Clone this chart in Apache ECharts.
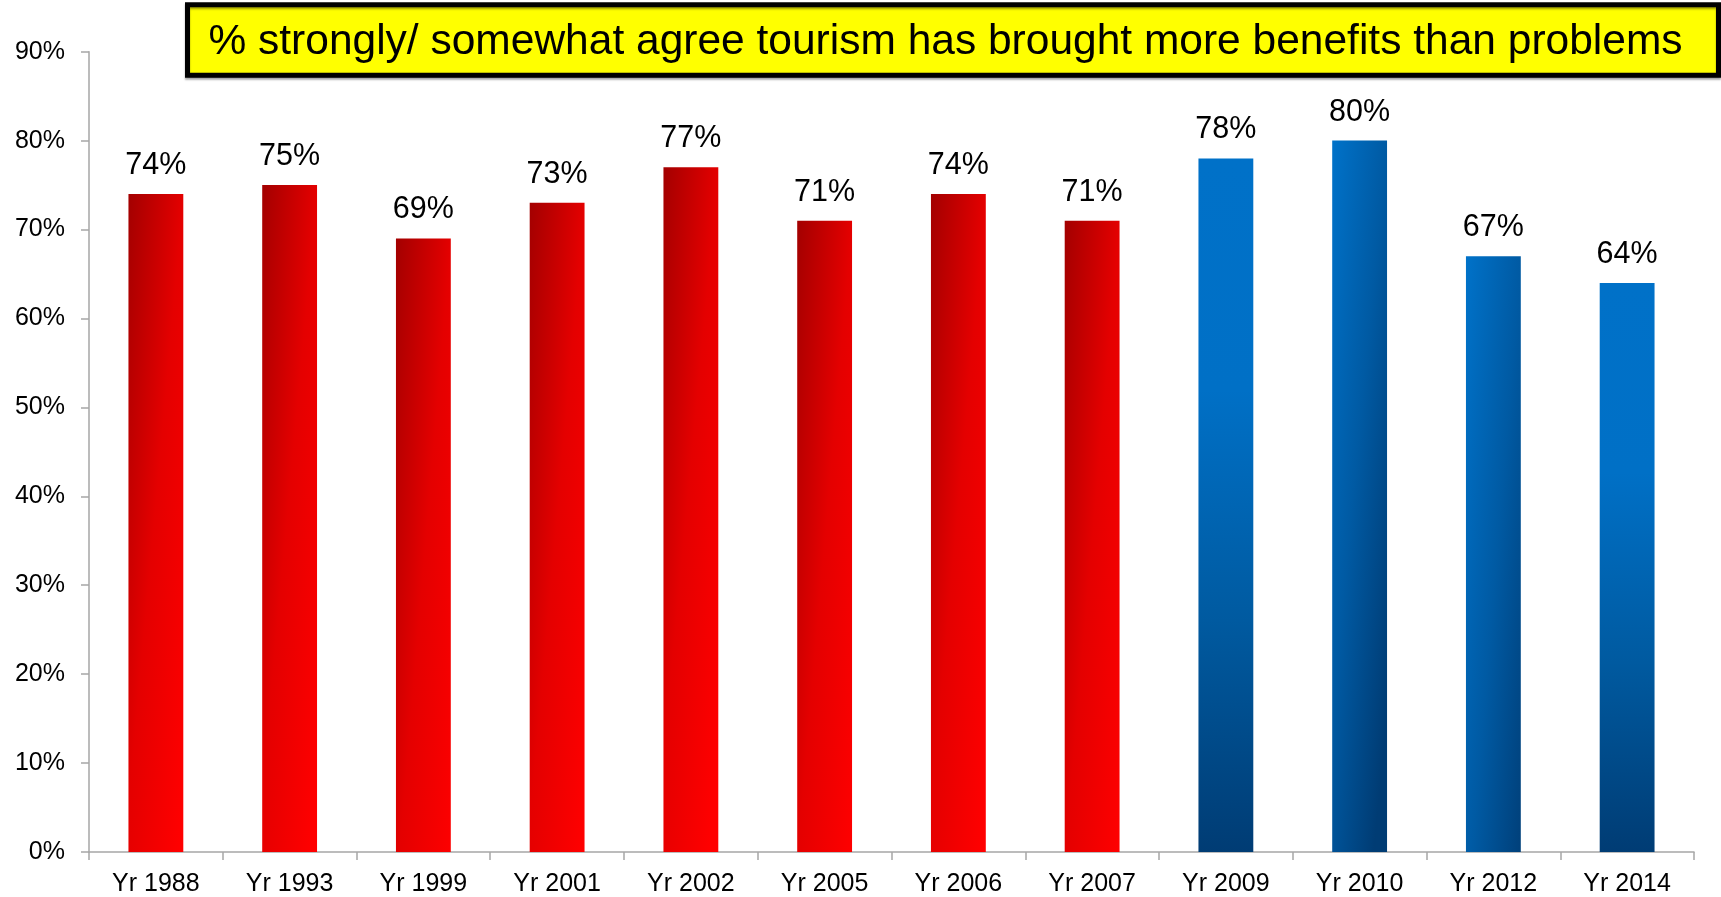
<!DOCTYPE html>
<html>
<head>
<meta charset="utf-8">
<script src="https://cdn.jsdelivr.net/npm/echarts@6/dist/echarts.min.js"></script>
<style>
html,body{margin:0;padding:0;background:#fff;}
#chart{width:1721px;height:897px;}
</style>
</head>
<body>
<div id="chart"></div>
<script>
// ---- data ----
var categories = ['Yr 1988','Yr 1993','Yr 1999','Yr 2001','Yr 2002','Yr 2005','Yr 2006','Yr 2007','Yr 2009','Yr 2010','Yr 2012','Yr 2014'];
var values = [74, 75, 69, 73, 77, 71, 74, 71, 78, 80, 67, 64];
var yTickValues = [0, 10, 20, 30, 40, 50, 60, 70, 80, 90];
var titleText = '% strongly/ somewhat agree tourism has brought more benefits than problems';
// fill style per bar: 'red', 'blueDiag', 'blueVert'
var fillKinds = ['red','red','red','red','red','red','red','red','blueVert','blueDiag','blueDiag','blueVert'];

// ---- styles ----
function grad(x2, y2, stops) {
  return new echarts.graphic.LinearGradient(0, 0, x2, y2, stops.map(function (c, i) {
    return { offset: i / (stops.length - 1), color: c };
  }));
}
var fills = {
  red: grad(2, 0.015, ['#a30000', '#e40000', '#ff0000']),
  blueDiag: grad(2, 0.015, ['#0072c9', '#005aa3', '#003c74']),
  blueVert: grad(0, 1, ['#0071c8', '#0070c6', '#005aa0', '#003c74'])
};
var FONT = 'Liberation Sans, Arial, sans-serif';

var chart = echarts.init(document.getElementById('chart'), null, { renderer: 'canvas' });
var axisGray = '#a6a6a6';
var option = {
  animation: false,
  backgroundColor: '#ffffff',
  grid: { left: 89, right: 27, top: 51.7, bottom: 44, containLabel: false },
  xAxis: {
    type: 'category',
    data: categories,
    boundaryGap: true,
    axisLine: { show: true, lineStyle: { color: axisGray, width: 1.5 } },
    axisTick: { show: true, alignWithLabel: false, length: 8, lineStyle: { color: axisGray, width: 1.5 } },
    axisLabel: { color: '#000', fontFamily: FONT, fontSize: 25, margin: 20, interval: 0 }
  },
  yAxis: {
    type: 'value',
    min: yTickValues[0],
    max: yTickValues[yTickValues.length - 1],
    interval: yTickValues[1] - yTickValues[0],
    splitLine: { show: false },
    axisLine: { show: true, lineStyle: { color: axisGray, width: 1.5 } },
    axisTick: { show: true, length: 8, lineStyle: { color: axisGray, width: 1.5 } },
    axisLabel: { color: '#000', fontFamily: FONT, fontSize: 25, margin: 24,
      formatter: function (v) { return v + '%'; } }
  },
  series: [{
    type: 'bar',
    barWidth: '41%',
    data: values.map(function (v, i) {
      return { value: v, itemStyle: { color: fills[fillKinds[i]] } };
    }),
    label: {
      show: true,
      position: 'top',
      distance: 13,
      color: '#000',
      fontFamily: FONT,
      fontSize: 30.5,
      formatter: function (p) { return p.value + '%'; }
    }
  }],
  graphic: [{
    type: 'rect',
    z: 10,
    shape: { x: 187.5, y: 4.8, width: 1531, height: 70.4 },
    style: { fill: '#ffff00', stroke: '#000', lineWidth: 5,
      shadowColor: 'rgba(0,0,0,0.35)', shadowBlur: 2, shadowOffsetY: 2 }
  }, {
    type: 'text',
    z: 11,
    x: 945.5, y: 42,
    style: { text: titleText, fill: '#000', fontFamily: FONT,
      fontSize: 42.5, align: 'center', verticalAlign: 'middle' }
  }]
};
chart.setOption(option);
</script>
</body>
</html>
